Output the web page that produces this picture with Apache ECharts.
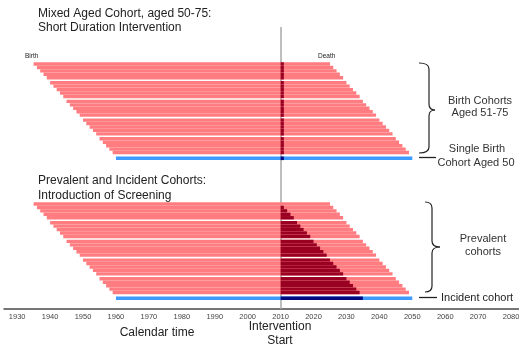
<!DOCTYPE html>
<html>
<head>
<meta charset="utf-8">
<script src="https://cdn.jsdelivr.net/npm/echarts@6/dist/echarts.min.js"></script>
<style>
  html, body { margin: 0; padding: 0; background: #fff; }
  #chart { width: 519px; height: 345px; }
</style>
</head>
<body>
<div id="chart"></div>
<script>
// Birth cohorts aged 51-75 at the intervention, oldest first
const cohortBirthYears = [1935, 1936, 1937, 1938, 1939, 1940, 1941, 1942, 1943, 1944,
  1945, 1946, 1947, 1948, 1949, 1950, 1951, 1952, 1953, 1954,
  1955, 1956, 1957, 1958, 1959];
// Each cohort followed to age 90
const cohortDeathYears = [2025, 2026, 2027, 2028, 2029, 2030, 2031, 2032, 2033, 2034,
  2035, 2036, 2037, 2038, 2039, 2040, 2041, 2042, 2043, 2044,
  2045, 2046, 2047, 2048, 2049];
// Single birth cohort aged 50 (the incident cohort)
const singleCohortBirth = 1960;
const singleCohortDeath = 2050;

const interventionStart = 2010;
// Short duration intervention: one year for everyone
const shortInterventionEnd = 2011;
// Screening runs until each prevalent cohort reaches age 75
const prevalentScreeningEnd = [2010, 2011, 2012, 2013, 2014, 2015, 2016, 2017, 2018, 2019,
  2020, 2021, 2022, 2023, 2024, 2025, 2026, 2027, 2028, 2029,
  2030, 2031, 2032, 2033, 2034];
const incidentScreeningEnd = 2035;

const tickYears = [1930, 1940, 1950, 1960, 1970, 1980, 1990, 2000, 2010,
  2020, 2030, 2040, 2050, 2060, 2070, 2080];

// Colours
const LIGHT_RED = '#ff7c80';
const DARK_RED = '#9a0022';
const LIGHT_BLUE = '#3d9bff';
const NAVY = '#000a80';

// Vertical layout of the rows (y axis runs in pixel-sized units from the top)
const PANEL_TOP = [35.3, 175.3];
const GROUP_PITCH = 18.7;
const ROW_PITCH = 3.44;
const ROW_HEIGHT = 3.4;
const SINGLE_OFFSET = 94.2;
const SINGLE_HEIGHT = 3.6;

// item: [birth, death, darkStart, darkEnd, panel, row, kind]
const cohortData = [];
function addPanel(panel, darkEnds, singleDarkEnd) {
  cohortBirthYears.forEach((b, i) => {
    cohortData.push([b, cohortDeathYears[i], interventionStart, darkEnds[i], panel, i, 0]);
  });
  cohortData.push([singleCohortBirth, singleCohortDeath, interventionStart, singleDarkEnd, panel, 25, 1]);
}
addPanel(0, cohortBirthYears.map(() => shortInterventionEnd), shortInterventionEnd);
addPanel(1, prevalentScreeningEnd, incidentScreeningEnd);

function renderCohort(params, api) {
  const birth = api.value(0), death = api.value(1);
  const s = api.value(2), e = api.value(3);
  const panel = api.value(4), row = api.value(5), kind = api.value(6);
  let top, h;
  if (kind === 1) {
    top = PANEL_TOP[panel] + SINGLE_OFFSET;
    h = SINGLE_HEIGHT;
  } else {
    top = PANEL_TOP[panel] + Math.floor(row / 5) * GROUP_PITCH + (row % 5) * ROW_PITCH;
    h = ROW_HEIGHT;
  }
  const a = api.coord([birth, top]);
  const b = api.coord([death, top + h]);
  const children = [{
    type: 'rect',
    shape: { x: a[0], y: a[1], width: b[0] - a[0], height: b[1] - a[1] },
    style: { fill: kind === 1 ? LIGHT_BLUE : LIGHT_RED }
  }];
  if (e > s) {
    const c = api.coord([s, top]);
    const d = api.coord([e, top + h]);
    children.push({
      type: 'rect',
      shape: { x: c[0], y: c[1], width: d[0] - c[0], height: d[1] - c[1] },
      style: { fill: kind === 1 ? NAVY : DARK_RED }
    });
  }
  return { type: 'group', children: children };
}

const STROKE = { stroke: '#222', lineWidth: 1.2, fill: null };
// Curly brace built from curves and straight strokes
function brace(x0, xm, xt, y0, ym, y1) {
  const r = 6;
  const curve = (x1, y1, cx, cy, x2, y2) => ({
    type: 'bezierCurve', silent: true,
    shape: { x1: x1, y1: y1, cpx1: cx, cpy1: cy, x2: x2, y2: y2 },
    style: STROKE
  });
  const line = (x1, y1, x2, y2) => ({
    type: 'line', silent: true,
    shape: { x1: x1, y1: y1, x2: x2, y2: y2 },
    style: STROKE
  });
  return [
    curve(x0, y0, xm, y0, xm, y0 + r),
    line(xm, y0 + r, xm, ym - r),
    curve(xm, ym - r, xm, ym, xt, ym),
    curve(xt, ym, xm, ym, xm, ym + r),
    line(xm, ym + r, xm, y1 - r),
    curve(xm, y1 - r, xm, y1, x0, y1)
  ];
}

const FONT = '"Liberation Sans", Arial, sans-serif';
function txt(x, y, text, size, align, color) {
  return {
    type: 'text', x: x, y: y, silent: true,
    style: { text: text, font: size + 'px ' + FONT, fill: color || '#222',
      textAlign: align || 'left', textVerticalAlign: 'middle' }
  };
}

const chart = echarts.init(document.getElementById('chart'), null, { renderer: 'canvas' });
chart.setOption({
  animation: false,
  grid: { left: 4, width: 540, top: 27, height: 282, outerBoundsMode: 'none', containLabel: false },
  xAxis: {
    type: 'value', min: 1926, max: 2090, position: 'bottom',
    splitLine: { show: false },
    axisTick: { show: false },
    axisLine: { onZero: false, lineStyle: { color: '#4a4a4a', width: 1.5 } },
    axisLabel: { customValues: tickYears, fontSize: 7.5, color: '#444', margin: 4,
      fontFamily: FONT, formatter: v => String(v) }
  },
  yAxis: {
    type: 'value', min: 0, max: 282, inverse: true, show: false
  },
  series: [{
    type: 'custom',
    renderItem: renderCohort,
    data: cohortData,
    clip: false,
    z: 2,
    markLine: {
      silent: true, symbol: 'none', z: 1,
      label: { show: false },
      lineStyle: { color: '#a8a8a8', width: 1.5, type: 'solid' },
      data: [{ xAxis: interventionStart }]
    }
  }],
  graphic: [
    txt(38, 14, 'Mixed Aged Cohort, aged 50-75:', 12),
    txt(38, 28, 'Short Duration Intervention', 12),
    txt(38, 181, 'Prevalent and Incident Cohorts:', 12),
    txt(38, 196, 'Introduction of Screening', 12),
    txt(25, 56, 'Birth', 6.5),
    txt(318, 56, 'Death', 6.5),
    ...brace(419, 429, 435, 63, 110, 153),
    ...brace(425, 432, 440, 202, 247, 292),
    { type: 'line', silent: true, shape: { x1: 419, y1: 157.5, x2: 436, y2: 157.5 },
      style: { stroke: '#222', lineWidth: 1.3 } },
    { type: 'line', silent: true, shape: { x1: 419, y1: 297.5, x2: 437, y2: 297.5 },
      style: { stroke: '#222', lineWidth: 1.3 } },
    txt(480, 101, 'Birth Cohorts', 11, 'center', '#333'),
    txt(480, 113, 'Aged 51-75', 11, 'center', '#333'),
    txt(477, 149, 'Single Birth', 11, 'center', '#333'),
    txt(476, 163, 'Cohort Aged 50', 11, 'center', '#333'),
    txt(483, 239, 'Prevalent', 11, 'center', '#333'),
    txt(483, 252, 'cohorts', 11, 'center', '#333'),
    txt(441, 297.5, 'Incident cohort', 11, 'left', '#222'),
    txt(157, 333, 'Calendar time', 12, 'center'),
    txt(280, 327, 'Intervention', 12, 'center'),
    txt(280, 341, 'Start', 12, 'center')
  ]
});
</script>
</body>
</html>
